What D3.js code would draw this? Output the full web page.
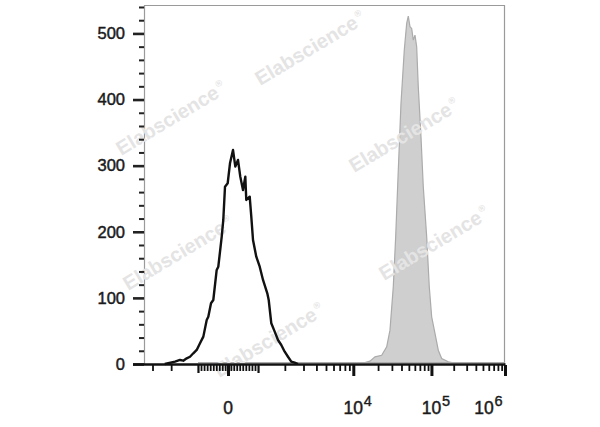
<!DOCTYPE html>
<html><head><meta charset="utf-8">
<script src="https://cdn.jsdelivr.net/npm/d3@7"></script>
<style>html,body{margin:0;padding:0;background:#fff;} svg{display:block;}</style>
</head><body>
<svg id="chart" width="600" height="427"></svg>
<script>
// ---- data (fluorescence intensity vs. event count) ----
const controlIntensity = [-2300, -1834, -1635, -1510, -1386, -1270, -1156, -1042, -933, -824, -714, -662, -574, -499, -387, -333, -218, -164, -105, -11, 70, 174, 253, 343, 419, 508, 584, 616, 727, 779, 835, 942, 1056, 1167, 1315, 1365, 1458, 1585, 1713, 1847, 1993, 2143, 2303, 2478, 2662];
const controlCount = [0, 3.5, 6.1, 5.0, 8.6, 11.0, 16.2, 21.2, 31.3, 41.4, 66.6, 71.6, 91.8, 96.8, 142.2, 147.2, 192.6, 217.9, 268.2, 273.4, 303.6, 323.8, 298.5, 308.6, 283.4, 263.2, 283.4, 248.1, 253.1, 222.8, 187.6, 162.3, 147.2, 127.1, 107.0, 96.8, 61.6, 48.9, 36.3, 28.7, 18.6, 11.0, 3.5, 2.0, 0];
const stainedIntensity = [-1000, 13775, 15860, 18294, 22207, 25718, 28347, 31270, 33596, 36315, 39391, 43522, 46805, 49134, 51730, 54480, 57205, 60260, 63478, 66665, 72439, 77760, 86351, 93547, 100768, 111623, 123635, 137453, 168788, 189462, 1000000];
const stainedCount = [0, 0, 2, 8.6, 11, 23.8, 48.9, 114.5, 190.2, 290.9, 391.8, 472.5, 512.9, 523.9, 507.9, 505.3, 487.6, 495.2, 477.6, 417.1, 341.5, 265.8, 190.2, 114.5, 69.1, 43.9, 18.6, 6.1, 1.1, 0, 0];

const yTickValues = [0, 100, 200, 300, 400, 500];
const yTickLabels = ["0", "100", "200", "300", "400", "500"];
const xTickValues = [0, 1e4, 1e5, 1e6];
const xTickBase = ["0", "10", "10", "10"];
const xTickExp = ["", "4", "5", "6"];
const watermarkText = "Elabscience";

// ---- biexponential display transform (flow cytometry axis) ----
const BX = {a: 160.6, c: 2200, d: 1.008};
function biexInverse(u) {
  const s = Math.sign(u), t = Math.abs(u);
  return s * (BX.a * (Math.pow(10, t) - 1) + BX.c * (1 - Math.exp(-BX.d * t)));
}
function biex(v) {
  const t = Math.abs(v);
  let lo = 0, hi = 8;
  for (let i = 0; i < 60; i++) {
    const mid = (lo + hi) / 2;
    if (biexInverse(mid) < t) lo = mid; else hi = mid;
  }
  return Math.sign(v) * (lo + hi) / 2;
}

// ---- layout ----
const plot = {left: 145, right: 505, top: 5, bottom: 364};
const xDisplay = d3.scaleLinear().domain([biex(-3540), biex(1e6)]).range([plot.left, plot.right]);
const x = v => xDisplay(biex(v));
const y = d3.scaleLinear().domain([0, 543]).range([plot.bottom, plot.top]);
const FONT = "Liberation Sans, Arial, sans-serif";

const svg = d3.select("#chart");
svg.append("rect").attr("width", 600).attr("height", 427).attr("fill", "#fff");

// frame
svg.append("path")
  .attr("d", `M${plot.left - 0.5},${plot.bottom} V${plot.top + 0.5} H${plot.right - 0.5} V${plot.bottom}`)
  .attr("fill", "none").attr("stroke", "#9a9a9a").attr("stroke-width", 1.2);

// stained histogram (grey filled)
const stained = stainedIntensity.map((v, i) => ({v, c: stainedCount[i]}));
svg.append("path")
  .datum(stained)
  .attr("d", d3.area().x(d => x(d.v)).y0(y(0) - 1.5).y1(d => y(d.c) - 1.5))
  .attr("fill", "#cfcfcf").attr("stroke", "#ababab").attr("stroke-width", 1.2);

// watermarks
const wmCenters = [[310, 48], [171, 118], [404, 135], [178, 253], [434, 243], [269, 340]];
wmCenters.forEach(([cx, cy]) => {
  const t = svg.append("text")
    .attr("transform", `translate(${cx},${cy}) rotate(-31)`)
    .attr("text-anchor", "middle").attr("dy", "0.35em")
    .attr("font-family", FONT)
    .attr("font-weight", "bold").attr("font-size", 20)
    .attr("fill", "#e4e4e4");
  t.append("tspan").text(watermarkText);
  t.append("tspan").attr("font-size", 9).attr("dy", -9).attr("dx", 2).text("®");
});

// control histogram (black line)
const control = controlIntensity.map((v, i) => ({v, c: controlCount[i]}));
svg.append("path")
  .datum(control)
  .attr("d", d3.line().x(d => x(d.v)).y(d => y(d.c)))
  .attr("fill", "none").attr("stroke", "#111").attr("stroke-width", 2.4).attr("stroke-linejoin", "round");

// ---- Y axis ----
const yMajor = svg.append("g").attr("transform", `translate(${plot.left - 1},0)`)
  .call(d3.axisLeft(y).tickValues(yTickValues).tickFormat((d, i) => yTickLabels[i]).tickSize(11).tickPadding(8));
yMajor.select(".domain").remove();
yMajor.selectAll("line").attr("stroke", "#222").attr("stroke-width", 2.6);
yMajor.selectAll("text").attr("font-family", FONT)
  .attr("font-size", 16.5).attr("fill", "#1a1a1a")
  .attr("stroke", "#1a1a1a").attr("stroke-width", 0.45);

const yMinorVals = d3.range(20, 543, 20).filter(v => v % 100 !== 0);
const yMinor = svg.append("g").attr("transform", `translate(${plot.left - 1},0)`)
  .call(d3.axisLeft(y).tickValues(yMinorVals).tickFormat("").tickSize(5));
yMinor.select(".domain").remove();
yMinor.selectAll("line").attr("stroke", "#222").attr("stroke-width", 2);

// ---- X axis ----
const xMinorVals = [];
[-3000, -2000].forEach(v => xMinorVals.push(v));
for (let m = -9; m <= 9; m++) if (m !== 0) xMinorVals.push(m * 100);
for (let m = 2; m <= 9; m++) xMinorVals.push(m * 1000);
for (let m = 2; m <= 9; m++) xMinorVals.push(m * 10000);
for (let m = 2; m <= 9; m++) xMinorVals.push(m * 100000);
const xMidVals = [-1000, 1000];

function xTicks(vals, size, width) {
  const g = svg.append("g").attr("transform", `translate(0,${plot.bottom + 1})`)
    .call(d3.axisBottom(xDisplay).tickValues(vals.map(biex)).tickFormat("").tickSize(size));
  g.select(".domain").remove();
  g.selectAll("line").attr("stroke", "#111").attr("stroke-width", width);
}
xTicks(xMinorVals, 6, 1.8);
xTicks(xMidVals, 8, 2.2);
xTicks(xTickValues, 11, 3);

// axis base line
svg.append("line")
  .attr("x1", plot.left - 12).attr("x2", plot.right + 0.5)
  .attr("y1", plot.bottom + 0.5).attr("y2", plot.bottom + 0.5)
  .attr("stroke", "#111").attr("stroke-width", 2.5);

// x tick labels (with superscript exponents)
xTickValues.forEach((v, i) => {
  const shift = i === xTickValues.length - 1 ? -21 : 0;
  const px = x(v) + shift;
  svg.append("text").attr("x", px).attr("y", 414)
    .attr("text-anchor", "middle")
    .attr("font-family", FONT)
    .attr("font-size", 17.5).attr("fill", "#1a1a1a")
    .attr("stroke", "#1a1a1a").attr("stroke-width", 0.45)
    .text(xTickBase[i]);
  if (xTickExp[i]) {
    svg.append("text").attr("x", px + 10.5).attr("y", 406)
      .attr("font-family", FONT)
      .attr("font-size", 14.5).attr("fill", "#1a1a1a")
      .attr("stroke", "#1a1a1a").attr("stroke-width", 0.4)
      .text(xTickExp[i]);
  }
});
</script>
</body></html>
